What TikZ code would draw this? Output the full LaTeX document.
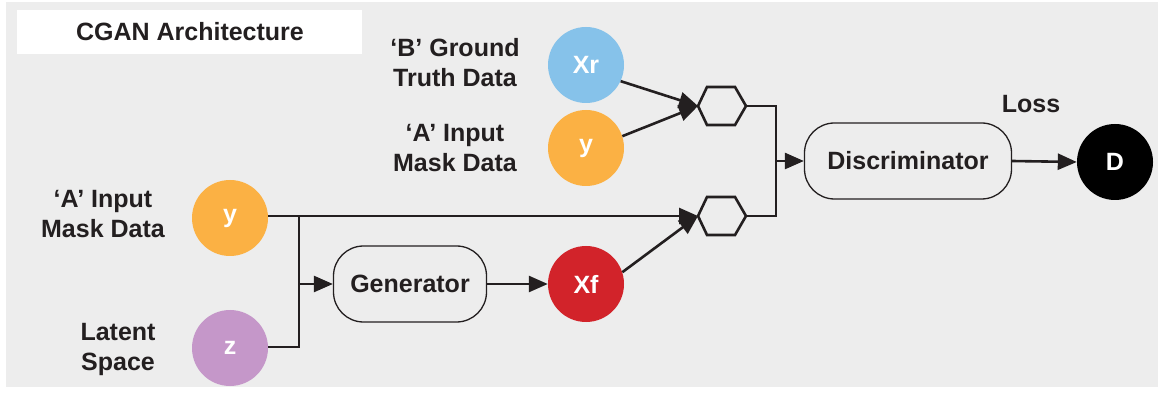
\documentclass[tikz,border=0pt]{standalone}
\usepackage{fontspec}
\setmainfont{Liberation Sans}
\usetikzlibrary{arrows.meta}
\definecolor{bg}{HTML}{EDEDED}
\definecolor{txt}{HTML}{231F20}
\definecolor{cblue}{HTML}{86C2EA}
\definecolor{corange}{HTML}{FBB144}
\definecolor{cpurple}{HTML}{C597C9}
\definecolor{cred}{HTML}{D2232A}
\tikzset{
  circ/.style={circle, minimum size=76pt, inner sep=0pt, text=white, font=\fontsize{25}{30}\selectfont\bfseries},
  lbl/.style={align=center, text=txt, font=\fontsize{25}{30}\selectfont\bfseries},
  rbox/.style={draw=txt, line width=1.3pt, rounded corners=30pt, minimum height=76pt, inner sep=0pt, text=txt, font=\fontsize{25}{30}\selectfont\bfseries},
  conn/.style={draw=txt, line width=2.6pt},
  arr/.style={conn, -{Triangle[length=19pt,width=16pt]}},
  hexline/.style={draw=txt, line width=2.6pt, line join=miter}
}
\begin{document}
\begin{tikzpicture}[x=1pt,y=-1pt]
\useasboundingbox (0,0) rectangle (1159,395);
\fill[white] (0,0) rectangle (1159,395);
\fill[bg] (6,2) rectangle (1158,387);
% title
\fill[white] (17,10) rectangle (362,54);
\node[text=txt, font=\fontsize{25}{30}\selectfont\bfseries] (title) at (190,32) {CGAN Architecture};

% circles
\node[circ, fill=cblue] (xr) at (586,65) {Xr};
\node[circ, fill=corange] (y1) at (586,148) {y};
\node[circ, fill=corange] (y2) at (230,218) {y};
\node[circ, fill=cpurple] (z) at (230,348) {z};
\node[circ, fill=cred] (xf) at (586,284) {Xf};
\node[circ, fill=black] (d) at (1115,162) {D};

% labels
\node[lbl] (lxr) at (455,63) {‘B’ Ground\\Truth Data};
\node[lbl] (ly1) at (455,148) {‘A’ Input\\Mask Data};
\node[lbl] (ly2) at (103,214) {‘A’ Input\\Mask Data};
\node[lbl] (lz) at (118,349) {Latent\\Space};
\node[lbl] (loss) at (1031,104) {Loss};

% boxes
\node[rbox, minimum width=153pt] (gen) at (410,284) {Generator};
\node[rbox, minimum width=207pt] (disc) at (908,161) {Discriminator};

% hexagons
\coordinate (h1w) at (698,106);
\coordinate (h1e) at (746,106);
\coordinate (h2w) at (698,216);
\coordinate (h2e) at (746,216);
\draw[hexline] (h1w) -- ++(9,-19) -- ++(28,0) -- (h1e) -- ++(-11,19) -- ++(-28,0) -- cycle;
\draw[hexline] (h2w) -- ++(9,-19) -- ++(28,0) -- (h2e) -- ++(-11,19) -- ++(-28,0) -- cycle;

% connectors
\coordinate (split) at (299,216);
\coordinate (jn) at (776,161);
\draw[arr] (xr.-25) -- (h1w);
\draw[arr] (y1.18) -- (h1w);
\draw[arr] (y2.east |- split) -- (h2w);
\draw[conn] (split) |- (z.east |- 0,347);
\draw[arr] (split |- gen.west) -- (gen.west);
\draw[arr] (gen.east) -- (xf.west);
\draw[arr] (xf.18) -- (h2w);
\draw[conn] (h1e) -| (jn) |- (h2e);
\draw[arr] (jn) -- (disc.west);
\draw[arr] (disc.east) -- (d.west);
\end{tikzpicture}
\end{document}
